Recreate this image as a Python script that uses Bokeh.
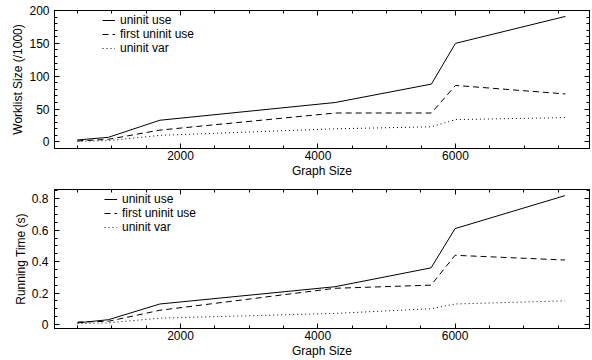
from bokeh.plotting import figure
from bokeh.models import (LinearAxis, SingleIntervalTicker, Legend, LegendItem,
                          NumeralTickFormatter, Range1d, ColumnDataSource)
from bokeh.layouts import column
from bokeh.embed import file_html
from bokeh.resources import INLINE

# ---- data ----
graph_size = [500, 950, 1700, 4250, 5650, 6000, 7600]
series_names = ["uninit use", "first uninit use", "uninit var"]

worklist_uninit_use = [3, 7, 33, 60, 88, 150, 191]
worklist_first_uninit_use = [1.5, 4, 18, 44, 44, 86, 73]
worklist_uninit_var = [1, 2, 10, 20, 23, 34, 37]

time_uninit_use = [0.01, 0.03, 0.13, 0.24, 0.36, 0.61, 0.82]
time_first_uninit_use = [0.015, 0.02, 0.09, 0.23, 0.25, 0.44, 0.41]
time_uninit_var = [0.005, 0.01, 0.04, 0.07, 0.10, 0.13, 0.15]

x_label = "Graph Size"
y_label_top = "Worklist Size (/1000)"
y_label_bottom = "Running Time (s)"

FONT = "Liberation Sans"
FS = "12px"
DASHES = ["solid", "6 4", "1 3"]


def style_axis(ax, show_labels=True):
    ax.major_tick_in = 5
    ax.major_tick_out = 0
    ax.minor_tick_in = 3
    ax.minor_tick_out = 0
    ax.axis_line_color = "black"
    ax.major_tick_line_color = "black"
    ax.minor_tick_line_color = "black"
    ax.major_label_text_font = FONT
    ax.axis_label_text_font = FONT
    ax.axis_label_text_font_size = FS
    ax.axis_label_text_font_style = "normal"
    ax.axis_label_text_color = "black"
    if show_labels:
        ax.major_label_text_font_size = FS
        ax.major_label_text_color = "black"
    else:
        ax.major_label_text_font_size = "1px"
        ax.major_label_text_color = None
        ax.major_label_standoff = 0


def make_fig(height, xr, yr, ylabel, ys, yint, yminor, yfmt,
             border_left, border_top, border_bottom, ylab_standoff, legend_loc):
    p = figure(width=592, height=height, output_backend="svg",
               toolbar_location=None, x_range=Range1d(*xr), y_range=Range1d(*yr),
               min_border_left=border_left, min_border_right=3,
               min_border_top=border_top, min_border_bottom=border_bottom,
               x_axis_type=None, y_axis_type=None)
    p.grid.visible = False
    p.outline_line_color = "black"
    p.outline_line_width = 1
    p.background_fill_color = "white"
    p.border_fill_color = "white"

    xt = SingleIntervalTicker(interval=2000, num_minor_ticks=4)
    yt = SingleIntervalTicker(interval=yint, num_minor_ticks=yminor)

    xb = LinearAxis(ticker=xt, axis_label=x_label)
    style_axis(xb)
    xb.major_label_standoff = 2
    xb.axis_label_standoff = 1
    p.add_layout(xb, "below")

    xa = LinearAxis(ticker=xt)
    style_axis(xa, show_labels=False)
    p.add_layout(xa, "above")

    yl = LinearAxis(ticker=yt, axis_label=ylabel)
    style_axis(yl)
    yl.major_label_standoff = ylab_standoff
    yl.axis_label_standoff = 1
    if yfmt is not None:
        yl.formatter = NumeralTickFormatter(format=yfmt)
    p.add_layout(yl, "left")

    yr_ax = LinearAxis(ticker=yt)
    style_axis(yr_ax, show_labels=False)
    p.add_layout(yr_ax, "right")

    items = []
    for name, vals, dash in zip(series_names, ys, DASHES):
        src = ColumnDataSource(dict(x=graph_size, y=vals))
        r = p.line("x", "y", source=src, line_color="black", line_width=1,
                   line_dash=dash)
        items.append(LegendItem(label=name, renderers=[r]))

    leg = Legend(items=items, location=legend_loc)
    leg.margin = 0
    leg.padding = 0
    leg.spacing = -5
    leg.border_line_color = None
    leg.background_fill_alpha = 0
    leg.glyph_width = 13
    leg.glyph_height = 10
    leg.label_height = 10
    leg.label_standoff = 5
    leg.label_text_font = FONT
    leg.label_text_font_size = FS
    leg.label_text_color = "black"
    p.add_layout(leg, "center")
    return p


top = make_fig(180, (167, 7950), (-10, 200), y_label_top,
               [worklist_uninit_use, worklist_first_uninit_use, worklist_uninit_var],
               50, 5, None, 54, 10, 32, 5, (48, 93))

bottom = make_fig(180, (165, 7958), (-0.026, 0.859), y_label_bottom,
                  [time_uninit_use, time_first_uninit_use, time_uninit_var],
                  0.2, 4, "0.[0]", 52, 9, 32, 6, (50, 94))

layout = column(top, bottom, spacing=0)
open("out.html", "w").write(file_html(layout, INLINE))
